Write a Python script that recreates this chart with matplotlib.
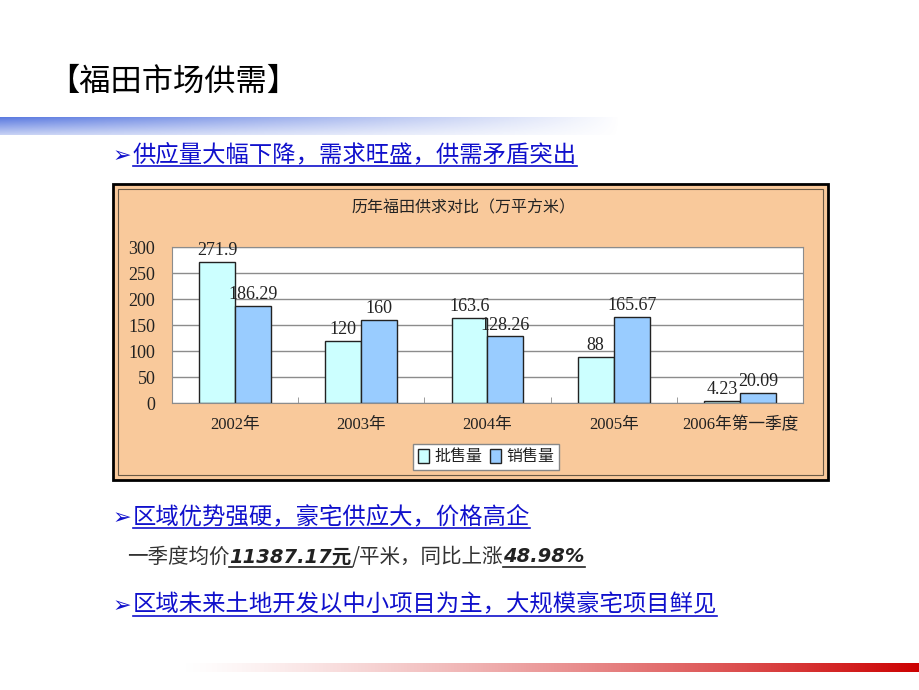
import numpy as np
import matplotlib.pyplot as plt
from matplotlib.patches import Rectangle

plt.rcParams['font.family'] = ['Noto Sans CJK SC', 'DejaVu Sans']

# data (万平方米)
categories = ['2002年', '2003年', '2004年', '2005年', '2006年第一季度']
supply = [271.9, 120, 163.6, 88, 4.23]
sales = [186.29, 160, 128.26, 165.67, 20.09]
supply_labels = ['271.9', '120', '163.6', '88', '4.23']
sales_labels = ['186.29', '160', '128.26', '165.67', '20.09']
series_names = ['批售量', '销售量']
yticks = [0, 50, 100, 150, 200, 250, 300]

serif = ['Liberation Serif', 'Noto Sans CJK SC']
blue_txt = '#1010CC'

fig = plt.figure(figsize=(9.2, 6.9), dpi=100)

# background axes in pixel units (1 unit = 1 px)
bg = fig.add_axes([0, 0, 1, 1])
bg.set_xlim(0, 920)
bg.set_ylim(690, 0)
bg.axis('off')

# top blue band, fading out to the right
h, w = 18, 620
xx = np.linspace(0, 1, w)[None, :]
yy = np.linspace(0, 1, h)[:, None]
band = np.zeros((h, w, 4))
band[..., 0] = 0.36
band[..., 1] = 0.48
band[..., 2] = 0.88
band[..., 3] = (1 - xx) ** 0.9 * (1 - 0.65 * yy)
bg.imshow(band, extent=(0, w, 135, 117), aspect='auto', interpolation='bilinear')

# bottom red band
w2 = 745
xx2 = np.linspace(0, 1, w2)[None, :]
band2 = np.zeros((9, w2, 4))
band2[..., 0] = 0.8
band2[..., 3] = np.repeat(xx2 ** 1.3, 9, axis=0)
bg.imshow(band2, extent=(175, 920, 672, 663), aspect='auto', interpolation='bilinear')
bg.set_xlim(0, 920)
bg.set_ylim(690, 0)

bg.text(48, 82, '【福田市场供需】', fontsize=22.5, va='center', ha='left', color='black')

# chart frame
bg.add_patch(Rectangle((113, 184), 715, 296, facecolor='#F9C99B', edgecolor='black', lw=2))
bg.add_patch(Rectangle((118, 189), 705, 286, facecolor='none', edgecolor='#6B5A45', lw=0.8))
bg.text(463, 208, '历年福田供求对比（万平方米）', fontsize=11.5, ha='center', va='center',
        color='#222222')

renderer = fig.canvas.get_renderer()


def put(x, y, s, size, color, underline=False, uoff=10, **kw):
    t = bg.text(x, y, s, fontsize=size, color=color, va='center', ha='left', **kw)
    bb = t.get_window_extent(renderer)
    if underline:
        bg.plot([x, x + bb.width], [y + uoff, y + uoff], color=color, lw=1.2)
    return x + bb.width


def bullet(y, s):
    bg.text(113, y + 1, '➢', fontsize=16, color=blue_txt, va='center', ha='left',
            family=['DejaVu Sans'])
    put(133, y, s, 16.8, blue_txt, underline=True, uoff=11)


bullet(155, '供应量大幅下降，需求旺盛，供需矛盾突出')
bullet(517, '区域优势强硬，豪宅供应大，价格高企')
bullet(605, '区域未来土地开发以中小项目为主，大规模豪宅项目鲜见')

x = put(127, 557, '一季度均价', 14.8, '#333333')
x = put(x, 557, '11387.17元', 14, '#222222', underline=True, uoff=10,
        fontweight='bold', fontstyle='italic', family=['DejaVu Sans', 'Noto Sans CJK SC'])
x = put(x, 557, '/平米，同比上涨', 14.8, '#333333')
x = put(x, 557, '48.98%', 14, '#222222', underline=True, uoff=10,
        fontweight='bold', fontstyle='italic', family=['DejaVu Sans'])

# bar chart
ax = fig.add_axes([172 / 920, 1 - 403 / 690, (803 - 172) / 920, (403 - 247) / 690])
ax.set_facecolor('white')
pos = np.arange(len(categories))
bw = 0.285
b1 = ax.bar(pos - bw / 2, supply, bw, color='#CCFFFF', edgecolor='#222222', lw=1)
b2 = ax.bar(pos + bw / 2, sales, bw, color='#99CCFF', edgecolor='#222222', lw=1)

for xp, v, s in zip(pos - bw / 2, supply, supply_labels):
    ax.annotate(s, (xp, v), xytext=(0, 2), textcoords='offset points', ha='center',
                va='bottom', fontsize=13, family=serif, color='#222222')
for xp, v, s in zip(pos + bw / 2, sales, sales_labels):
    ax.annotate(s, (xp, v), xytext=(0, 2), textcoords='offset points', ha='center',
                va='bottom', fontsize=13, family=serif, color='#222222')

ax.set_xlim(-0.5, len(categories) - 0.5)
ax.set_ylim(0, 300)
ax.set_yticks(yticks)
ax.set_xticks(pos, categories)
ax.set_xticks(np.arange(len(categories) + 1) - 0.5, minor=True)
ax.yaxis.grid(True, color='#8C8C8C', lw=1)
ax.set_axisbelow(True)
for sp in ax.spines.values():
    sp.set_color('#8C8C8C')
ax.tick_params(axis='y', length=0, pad=12, labelsize=13, labelcolor='#222222',
               labelfontfamily='Liberation Serif')
ax.tick_params(axis='x', which='major', length=0, pad=10, labelsize=12,
               labelcolor='#222222', labelfontfamily=serif)
ax.tick_params(axis='x', which='minor', length=4, direction='in', color='#8C8C8C')

leg = fig.legend([b1, b2], series_names, loc='center', bbox_to_anchor=(486 / 920, 1 - 457 / 690),
                 ncol=2, frameon=True, fancybox=False, edgecolor='#888888', framealpha=1,
                 handlelength=0.7, handleheight=0.9, handletextpad=0.3, columnspacing=0.5,
                 borderpad=0.3, fontsize=11.5)
for t in leg.get_texts():
    t.set_color('#222222')

fig.savefig('out.png', dpi=100)
